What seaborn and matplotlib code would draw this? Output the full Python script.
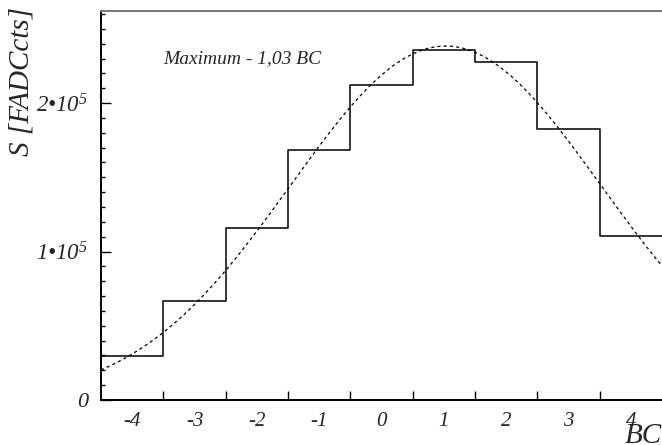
import numpy as np
import pandas as pd
import matplotlib
matplotlib.use("Agg")
import matplotlib.pyplot as plt
import seaborn as sns
from matplotlib.ticker import MultipleLocator, FixedLocator

# bin centers (BC) and summed signal per bin
bc = [-4, -3, -2, -1, 0, 1, 2, 3, 4]
signal = [29600, 66700, 115800, 168300, 212100, 235700, 227600, 182500, 110400]

# gaussian fit
fit_amp = 238400
fit_mean = 1.03
fit_sigma = 2.49

sns.set_theme(style="white")
plt.rcParams['font.family'] = ['Liberation Serif', 'DejaVu Serif']
plt.rcParams['font.style'] = 'italic'
plt.rcParams['mathtext.fontset'] = 'custom'
plt.rcParams['mathtext.rm'] = 'Liberation Serif:italic'
plt.rcParams['mathtext.it'] = 'Liberation Serif:italic'
plt.rcParams['mathtext.default'] = 'rm'

df = pd.DataFrame({"bc": bc, "signal": signal})

fig = plt.figure(figsize=(6.62, 4.45), dpi=100)
ax = fig.add_axes([101 / 662, 45 / 445, 561 / 662, 389 / 445])

edges = [b - 0.5 for b in bc] + [bc[-1] + 0.5]
sns.histplot(data=df, x="bc", weights="signal", bins=edges, element="step",
             fill=False, color="black", linewidth=1.1, ax=ax)

xs = np.linspace(edges[0], edges[-1], 300)
ys = fit_amp * np.exp(-(xs - fit_mean) ** 2 / (2 * fit_sigma ** 2))
sns.lineplot(x=xs, y=ys, color="black", linewidth=0.9, ax=ax)
ax.lines[-1].set_dashes((2.5, 2.5))

ax.set_xlim(edges[0], edges[-1])
ax.set_ylim(0, 262000)

# ticks at bin edges, labels at bin centers
ax.xaxis.set_major_locator(FixedLocator(edges[1:-1]))
ax.xaxis.set_minor_locator(FixedLocator(bc))
ax.set_xticklabels([], minor=False)
ax.set_xticklabels([str(v) for v in bc], minor=True)
ax.tick_params(axis="x", which="major", direction="in", length=6.5, width=1,
               color="black", bottom=True)
ax.tick_params(axis="x", which="minor", length=0, pad=9, labelsize=15, bottom=True)

ax.yaxis.set_major_locator(FixedLocator([0, 100000, 200000]))
ax.yaxis.set_minor_locator(MultipleLocator(10000))
ax.set_yticklabels(["0", r"1•10$^{5}$", r"2•10$^{5}$"])
ax.tick_params(axis="y", which="major", direction="in", length=7, width=1, pad=9,
               color="black", labelsize=16.5, left=True)
ax.tick_params(axis="y", which="minor", direction="in", length=3, width=1,
               color="black", left=True)
ax.get_yticklabels()[0].set_fontsize(16)

for side in ["left", "bottom"]:
    ax.spines[side].set_color("black")
    ax.spines[side].set_linewidth(1.4)
ax.spines["top"].set_color("#777777")
ax.spines["top"].set_linewidth(1.4)
ax.spines["right"].set_visible(False)

ax.set_xlabel("")
ax.set_ylabel("")
fig.text(163 / 662, 1 - 59 / 445, "Maximum - 1,03 BC", fontsize=14, va="center", ha="left")
fig.text(22 / 662, 1 - 81 / 445, "S [FADCcts]", fontsize=21, rotation=90,
         va="center", ha="center")
fig.text(625 / 662, 2 / 445, "BC", fontsize=21, va="baseline", ha="left")

plt.savefig("out.png", dpi=100)
